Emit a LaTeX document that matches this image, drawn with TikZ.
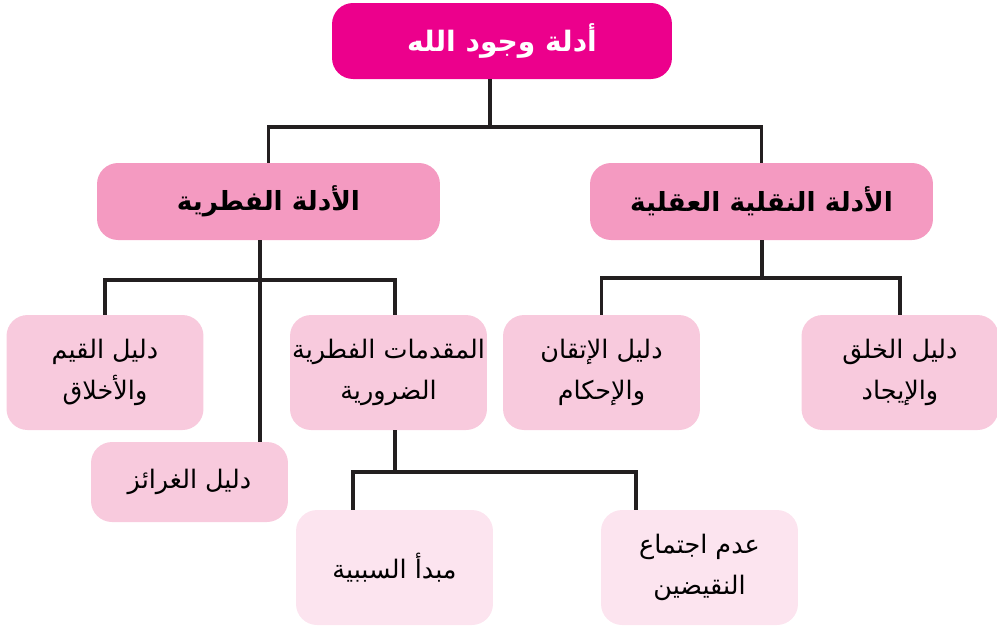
\documentclass[tikz,border=0pt]{standalone}
\usepackage{fontspec}
\newfontfamily\arabicfont[Script=Arabic]{DejaVu Sans}
\TeXXeTstate=1
\usetikzlibrary{positioning}
\definecolor{rootpink}{HTML}{EC008C}
\definecolor{midpink}{HTML}{F49AC1}
\definecolor{leafpink}{HTML}{F8CADD}
\definecolor{palepink}{HTML}{FCE4EF}
\definecolor{linegray}{HTML}{231F20}
\newcommand{\artext}[1]{\beginR #1\endR}
\tikzset{
  box/.style={rounded corners=0.42cm, align=center, inner sep=0pt,
    font=\arabicfont\fontsize{14.5}{23}\selectfont},
  rootbox/.style={box, fill=rootpink, text=white, minimum width=6.8cm,
    minimum height=1.52cm, font=\arabicfont\bfseries\fontsize{16}{20}\selectfont},
  midbox/.style={box, fill=midpink, minimum width=6.86cm, minimum height=1.54cm,
    font=\arabicfont\bfseries\fontsize{15}{20}\selectfont},
  leafbox/.style={box, fill=leafpink, minimum width=3.94cm, minimum height=2.3cm},
  palebox/.style={box, fill=palepink, minimum width=3.94cm, minimum height=2.3cm},
  link/.style={draw=linegray, line width=1.8pt}
}

\begin{document}
\begin{tikzpicture}[x=0.02cm, y=-0.02cm]
\useasboundingbox (0,0) rectangle (997,627);

% joints of the tree
\coordinate (j0) at (490,127);
\coordinate (j1) at (762,278);
\coordinate (j2) at (260,280);
\coordinate (m2) at (395,280);
\coordinate (j3) at (395,472);
\coordinate (s3) at (353,472);
\coordinate (n3) at (636,472);

% boxes
\node[rootbox] (root) at (502,41) {\artext{أدلة وجود الله}};
\node[midbox] (naqli) at (761.5,201.5) {\artext{الأدلة النقلية العقلية}};
\node[midbox] (fitri) at (268.5,201.5) {\artext{الأدلة الفطرية}};
\node[leafbox] (khalq) at (900,372.5) {\artext{دليل الخلق}\\\artext{والإيجاد}};
\node[leafbox] (itqan) at (601.5,372.5) {\artext{دليل الإتقان}\\\artext{والإحكام}};
\node[leafbox] (muqad) at (388.5,372.5) {\artext{المقدمات الفطرية}\\\artext{الضرورية}};
\node[leafbox] (qiyam) at (105,372.5) {\artext{دليل القيم}\\\artext{والأخلاق}};
\node[leafbox, minimum height=1.6cm] (ghara) at (189.5,482) {\artext{دليل الغرائز}};
\node[palebox] (sabab) at (394.5,567.5) {\artext{مبدأ السببية}};
\node[palebox] (naqid) at (699.5,567.5) {\artext{عدم اجتماع}\\\artext{النقيضين}};

% connectors
\draw[link] (root.south -| j0) -- (j0);
\draw[link] (fitri.north) |- (j0) -| (naqli.north);
\draw[link] (naqli.south -| j1) -- (j1);
\draw[link] (itqan.north) |- (j1) -| (khalq.north);
\draw[link] (fitri.south -| j2) -- (ghara.north -| j2);
\draw[link] (qiyam.north) |- (j2) -- (m2) -- (muqad.north -| m2);
\draw[link] (muqad.south -| j3) -- (j3);
\draw[link] (sabab.north -| s3) |- (j3) -| (naqid.north -| n3);
\end{tikzpicture}
\end{document}
